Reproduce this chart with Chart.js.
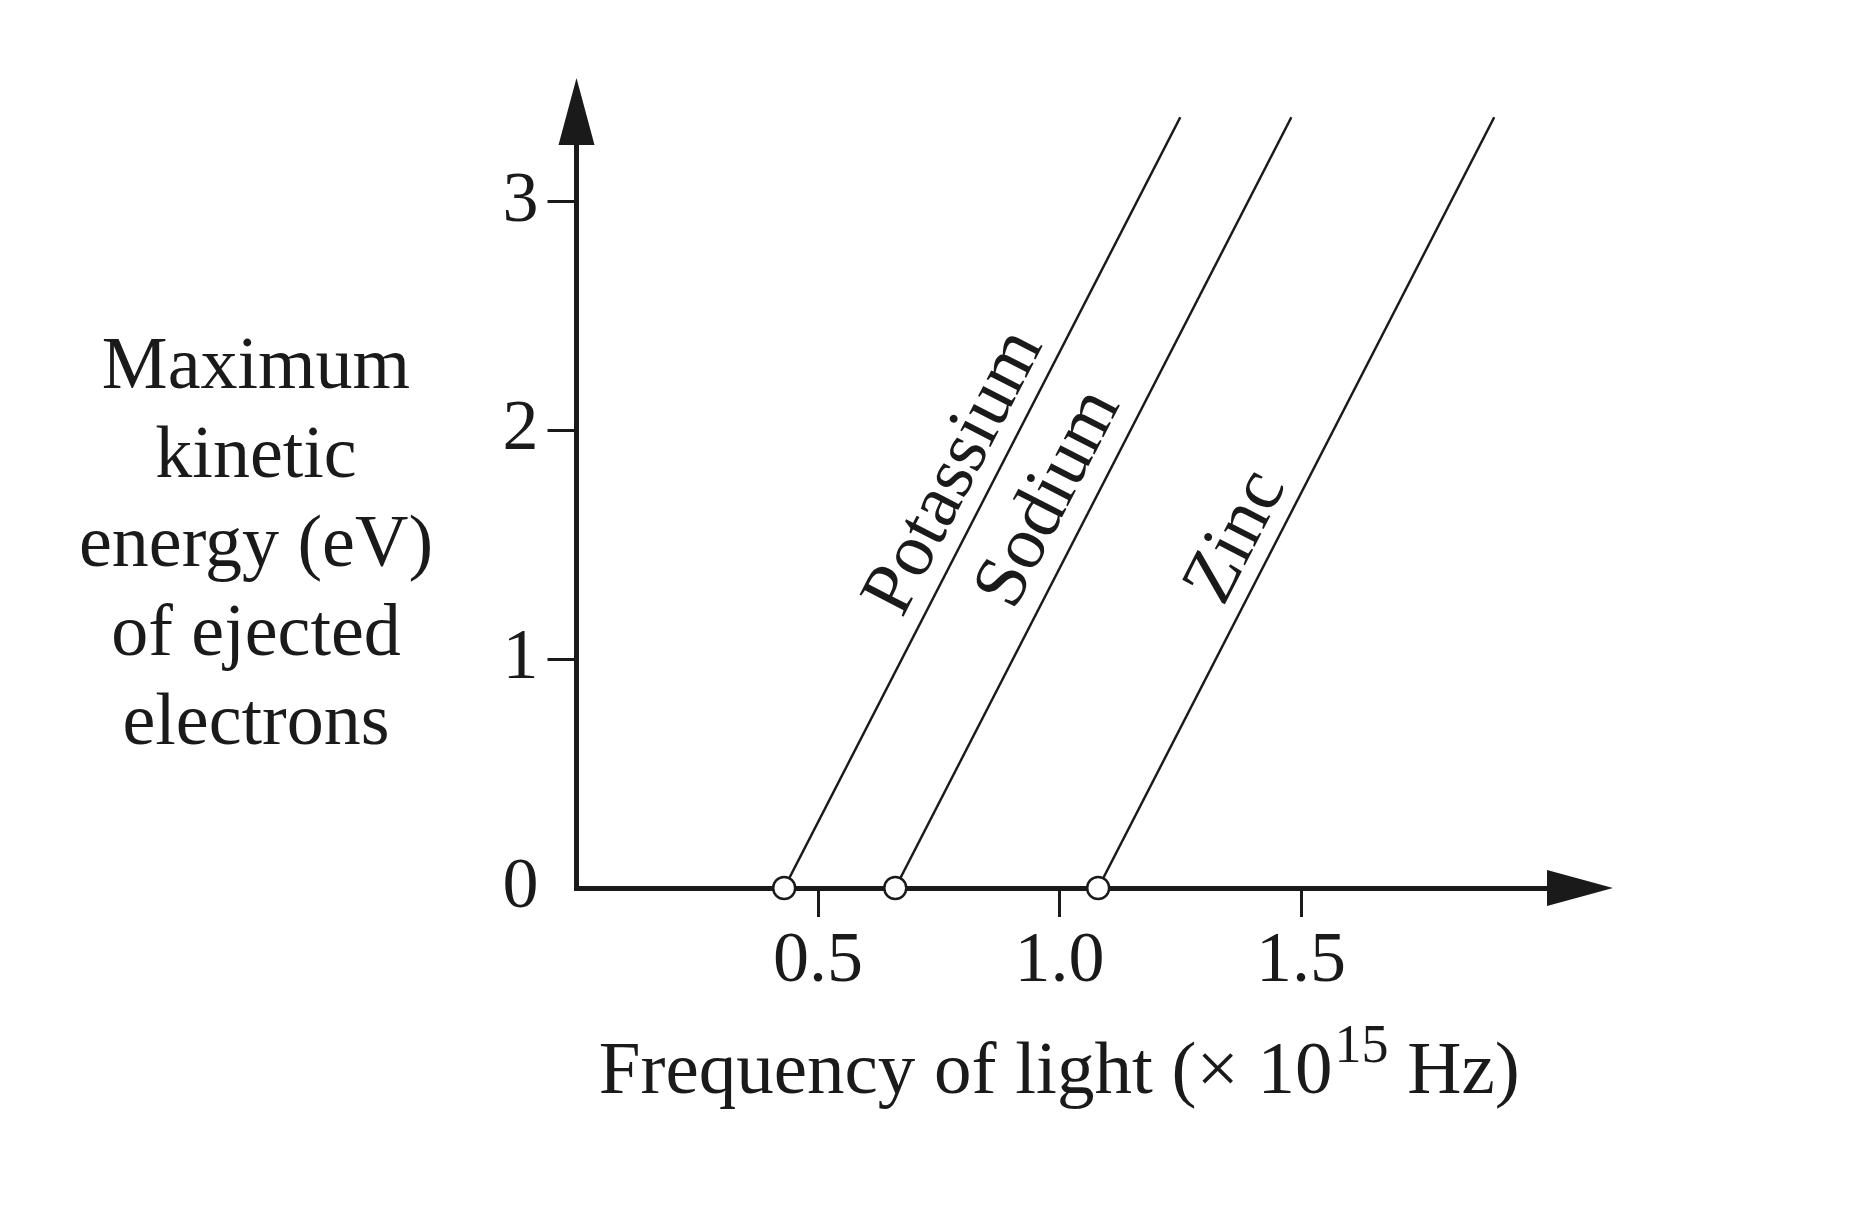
<!DOCTYPE html>
<html>
<head>
<meta charset="utf-8">
<script src="https://cdn.jsdelivr.net/npm/chart.js@4/dist/chart.umd.min.js"></script>
<style>
  html, body { margin: 0; padding: 0; background: #fff; }
  #wrap { width: 1856px; height: 1224px; }
</style>
</head>
<body>
<div id="wrap"><canvas id="lineChart" width="1856" height="1224"></canvas></div>
<script>
// metals and their readings (frequency in 10^15 Hz, energy in eV)
var metals = ["Potassium", "Sodium", "Zinc"];
var thresholdFreq = [0.43, 0.66, 1.08];
var topFreq = [1.25, 1.48, 1.90];
var topEnergy = 3.37;

var xTickValues = [0.5, 1.0, 1.5];
var yTickValues = [0, 1, 2, 3];

var yTitleLines = ["Maximum", "kinetic", "energy (eV)", "of ejected", "electrons"];

var ink = '#1a1a1a';
var serif = '"Liberation Serif", "Times New Roman", serif';

// where each name sits along its line (eV) and how far off the line (px)
var labelAt = [1.74, 1.62, 1.46];
var labelGap = [18, 21, 17];

var datasets = metals.map(function (name, i) {
    return {
        label: name,
        data: [
            { x: thresholdFreq[i], y: 0 },
            { x: topFreq[i], y: topEnergy }
        ],
        borderColor: ink,
        borderWidth: 2.5,
        pointRadius: [11, 0],
        pointHoverRadius: [11, 0],
        pointBackgroundColor: '#fff',
        pointBorderColor: ink,
        pointBorderWidth: 2.5,
        clip: false,
        tension: 0
    };
});

var decorations = {
    id: 'decorations',
    afterDraw: function (chart) {
        var c = chart.ctx;
        var a = chart.chartArea;
        var xs = chart.scales.x, ys = chart.scales.y;
        var ox = xs.getPixelForValue(0), oy = ys.getPixelForValue(0);
        c.save();
        c.fillStyle = ink;

        // arrow heads
        c.beginPath();
        c.moveTo(a.right + 13, oy);
        c.lineTo(a.right - 53, oy - 18);
        c.lineTo(a.right - 53, oy + 18);
        c.closePath();
        c.fill();
        c.beginPath();
        c.moveTo(ox, a.top - 12);
        c.lineTo(ox - 18, a.top + 55);
        c.lineTo(ox + 18, a.top + 55);
        c.closePath();
        c.fill();

        // y title, stacked lines
        c.font = '74px ' + serif;
        c.textAlign = 'center';
        c.textBaseline = 'alphabetic';
        yTitleLines.forEach(function (t, i) {
            c.fillText(t, 256, 388 + i * 89);
        });

        // x title with superscript
        var main1 = 'Frequency of light (\u00d7 10', sup = '15', main2 = ' Hz)';
        c.font = '75px ' + serif;
        var w1 = c.measureText(main1).width, w3 = c.measureText(main2).width;
        c.font = '54px ' + serif;
        var w2 = c.measureText(sup).width;
        var sx = (ox + a.right) / 2 - 30 - (w1 + w2 + w3) / 2;
        var by = 1093;
        c.textAlign = 'left';
        c.font = '75px ' + serif;
        c.fillText(main1, sx, by);
        c.font = '54px ' + serif;
        c.fillText(sup, sx + w1 + 2, by - 31);
        c.font = '75px ' + serif;
        c.fillText(main2, sx + w1 + w2 + 2, by);

        // names written along each line
        c.font = '75px ' + serif;
        c.textAlign = 'center';
        metals.forEach(function (name, i) {
            var x0 = xs.getPixelForValue(thresholdFreq[i]), y0 = ys.getPixelForValue(0);
            var x1 = xs.getPixelForValue(topFreq[i]), y1 = ys.getPixelForValue(topEnergy);
            var ang = Math.atan2(y1 - y0, x1 - x0);
            var t = labelAt[i] / topEnergy;
            var fx = thresholdFreq[i] + t * (topFreq[i] - thresholdFreq[i]);
            c.save();
            c.translate(xs.getPixelForValue(fx), ys.getPixelForValue(labelAt[i]));
            c.rotate(ang);
            c.fillText(name, 0, -labelGap[i]);
            c.restore();
        });
        c.restore();
    }
};

var myChart = new Chart(document.getElementById("lineChart"), {
    type: 'line',
    data: { datasets: datasets },
    options: {
        responsive: false,
        animation: false,
        devicePixelRatio: 1,
        layout: { padding: { left: 0, right: 256, top: 90, bottom: 0 } },
        plugins: {
            legend: { display: false },
            tooltip: { enabled: false }
        },
        events: [],
        scales: {
            x: {
                type: 'linear',
                min: 0,
                max: 2.119,
                afterBuildTicks: function (s) {
                    s.ticks = xTickValues.map(function (v) { return { value: v }; });
                },
                afterFit: function (s) { s.height = 336; },
                grid: {
                    drawOnChartArea: false,
                    drawTicks: true,
                    tickLength: 29,
                    tickWidth: 3,
                    tickColor: ink
                },
                border: { display: true, width: 5, color: ink },
                ticks: {
                    autoSkip: false,
                    maxRotation: 0,
                    padding: 2,
                    color: ink,
                    font: { family: serif, size: 72 },
                    callback: function (v) { return Number(v).toFixed(1); }
                }
            },
            y: {
                type: 'linear',
                min: 0,
                max: 3.489,
                afterBuildTicks: function (s) {
                    s.ticks = yTickValues.map(function (v) { return { value: v }; });
                },
                afterFit: function (s) { s.width = 576.5; },
                grid: {
                    drawOnChartArea: false,
                    drawTicks: true,
                    tickLength: 29,
                    tickWidth: 3,
                    tickColor: function (ctx) {
                        return ctx.tick && ctx.tick.value === 0 ? 'rgba(0,0,0,0)' : ink;
                    }
                },
                border: { display: true, width: 5, color: ink },
                ticks: {
                    autoSkip: false,
                    padding: 9,
                    color: ink,
                    font: { family: serif, size: 72 },
                    callback: function (v) { return String(v); }
                }
            }
        }
    },
    plugins: [decorations]
});
</script>
</body>
</html>
